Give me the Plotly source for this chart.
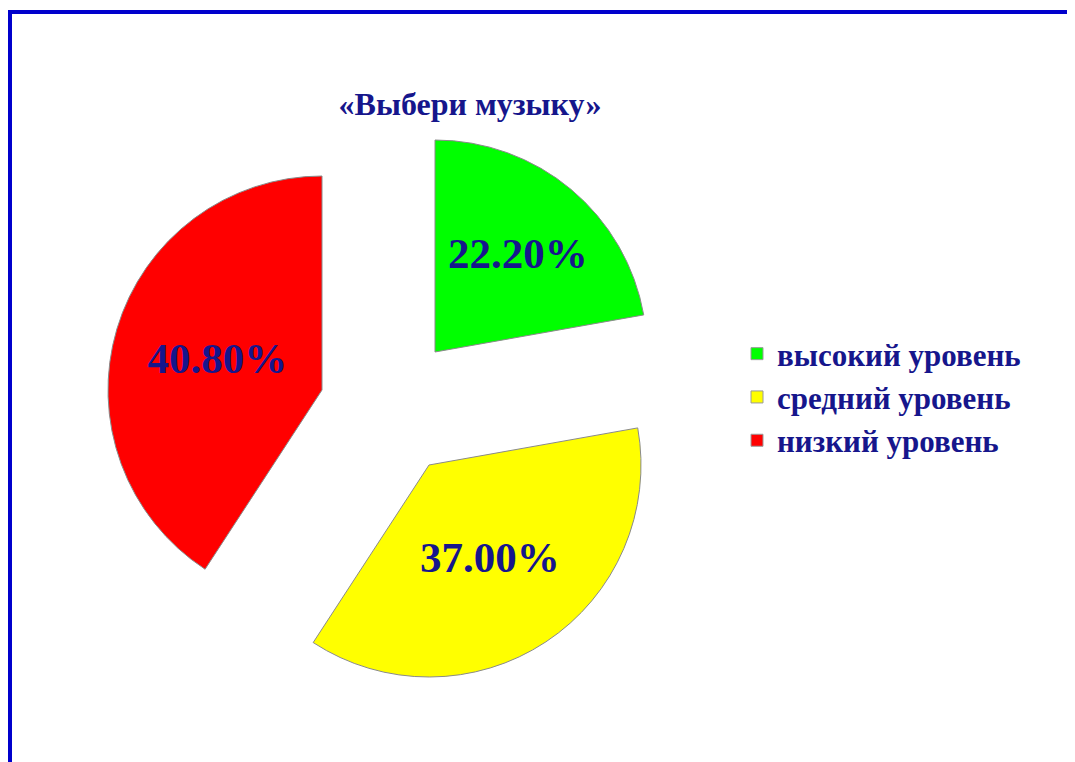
import plotly.graph_objects as go

# ---- data ----
labels = ["высокий уровень", "средний уровень", "низкий уровень"]
values = [22.2, 37.0, 40.8]
colors = ["#00ff00", "#ffff00", "#ff0000"]
title_text = "«Выбери музыку»"

# page body has an 8px margin, so work in figure pixels = reference pixels - 8
OFF = 8
W, H = 1075 - OFF, 762 - OFF
# exploded slice apex positions (reference px) and radius for each slice
apex = [(435, 352), (429, 465), (322, 390)]
radius = [212, 212, 214]

NAVY = "#16168c"
SERIF = "Liberation Serif, Times New Roman, serif"
TRANSP = "rgba(0,0,0,0)"


def px_x(x):
    return (x - OFF) / W


def px_y(y):
    return 1 - (y - OFF) / H


fig = go.Figure()

# legend carrier (tiny pie, same data) — drawn first so the legend takes its colours
fig.add_trace(go.Pie(
    labels=labels,
    values=values,
    sort=False,
    domain=dict(x=[0, 0.0004], y=[0, 0.0004]),
    marker=dict(colors=colors, line=dict(color="#9a9a9a", width=1)),
    textinfo="none",
    showlegend=True,
    hoverinfo="skip",
))

# one pie trace per exploded slice (only that slice is visible)
for i, (cx, cy) in enumerate(apex):
    r = radius[i]
    fig.add_trace(go.Pie(
        labels=labels,
        values=values,
        sort=False,
        direction="clockwise",
        rotation=0,
        domain=dict(x=[px_x(cx - r), px_x(cx + r)], y=[px_y(cy + r), px_y(cy - r)]),
        marker=dict(
            colors=[c if j == i else TRANSP for j, c in enumerate(colors)],
            line=dict(color=["#8a8a8a" if j == i else TRANSP for j in range(3)], width=1),
        ),
        texttemplate=["%{value:.2f}%" if j == i else "" for j in range(3)],
        textposition="inside",
        insidetextorientation="horizontal",
        textfont=dict(family=SERIF, size=43, color=NAVY, weight="bold"),
        showlegend=False,
        hoverinfo="skip",
    ))

fig.update_layout(
    width=W, height=H,
    margin=dict(l=0, r=0, t=0, b=0),
    paper_bgcolor="white",
    plot_bgcolor="white",
    uniformtext=dict(mode="show", minsize=43),
    title=dict(
        text=title_text,
        x=px_x(470), xanchor="center",
        y=px_y(104), yanchor="middle",
        font=dict(family=SERIF, size=32, color=NAVY, weight="bold"),
    ),
    legend=dict(
        x=px_x(737), xanchor="left",
        y=px_y(327), yanchor="top",
        font=dict(family=SERIF, size=31, color=NAVY, weight="bold"),
        bgcolor="rgba(0,0,0,0)",
    ),
    shapes=[
        dict(type="line", xref="paper", yref="paper",
             x0=px_x(8), x1=1, y0=px_y(12), y1=px_y(12),
             line=dict(color="#0000cc", width=4)),
        dict(type="line", xref="paper", yref="paper",
             x0=px_x(10), x1=px_x(10), y0=0, y1=px_y(10),
             line=dict(color="#0000cc", width=4)),
    ],
)

fig.write_html("out.html")
